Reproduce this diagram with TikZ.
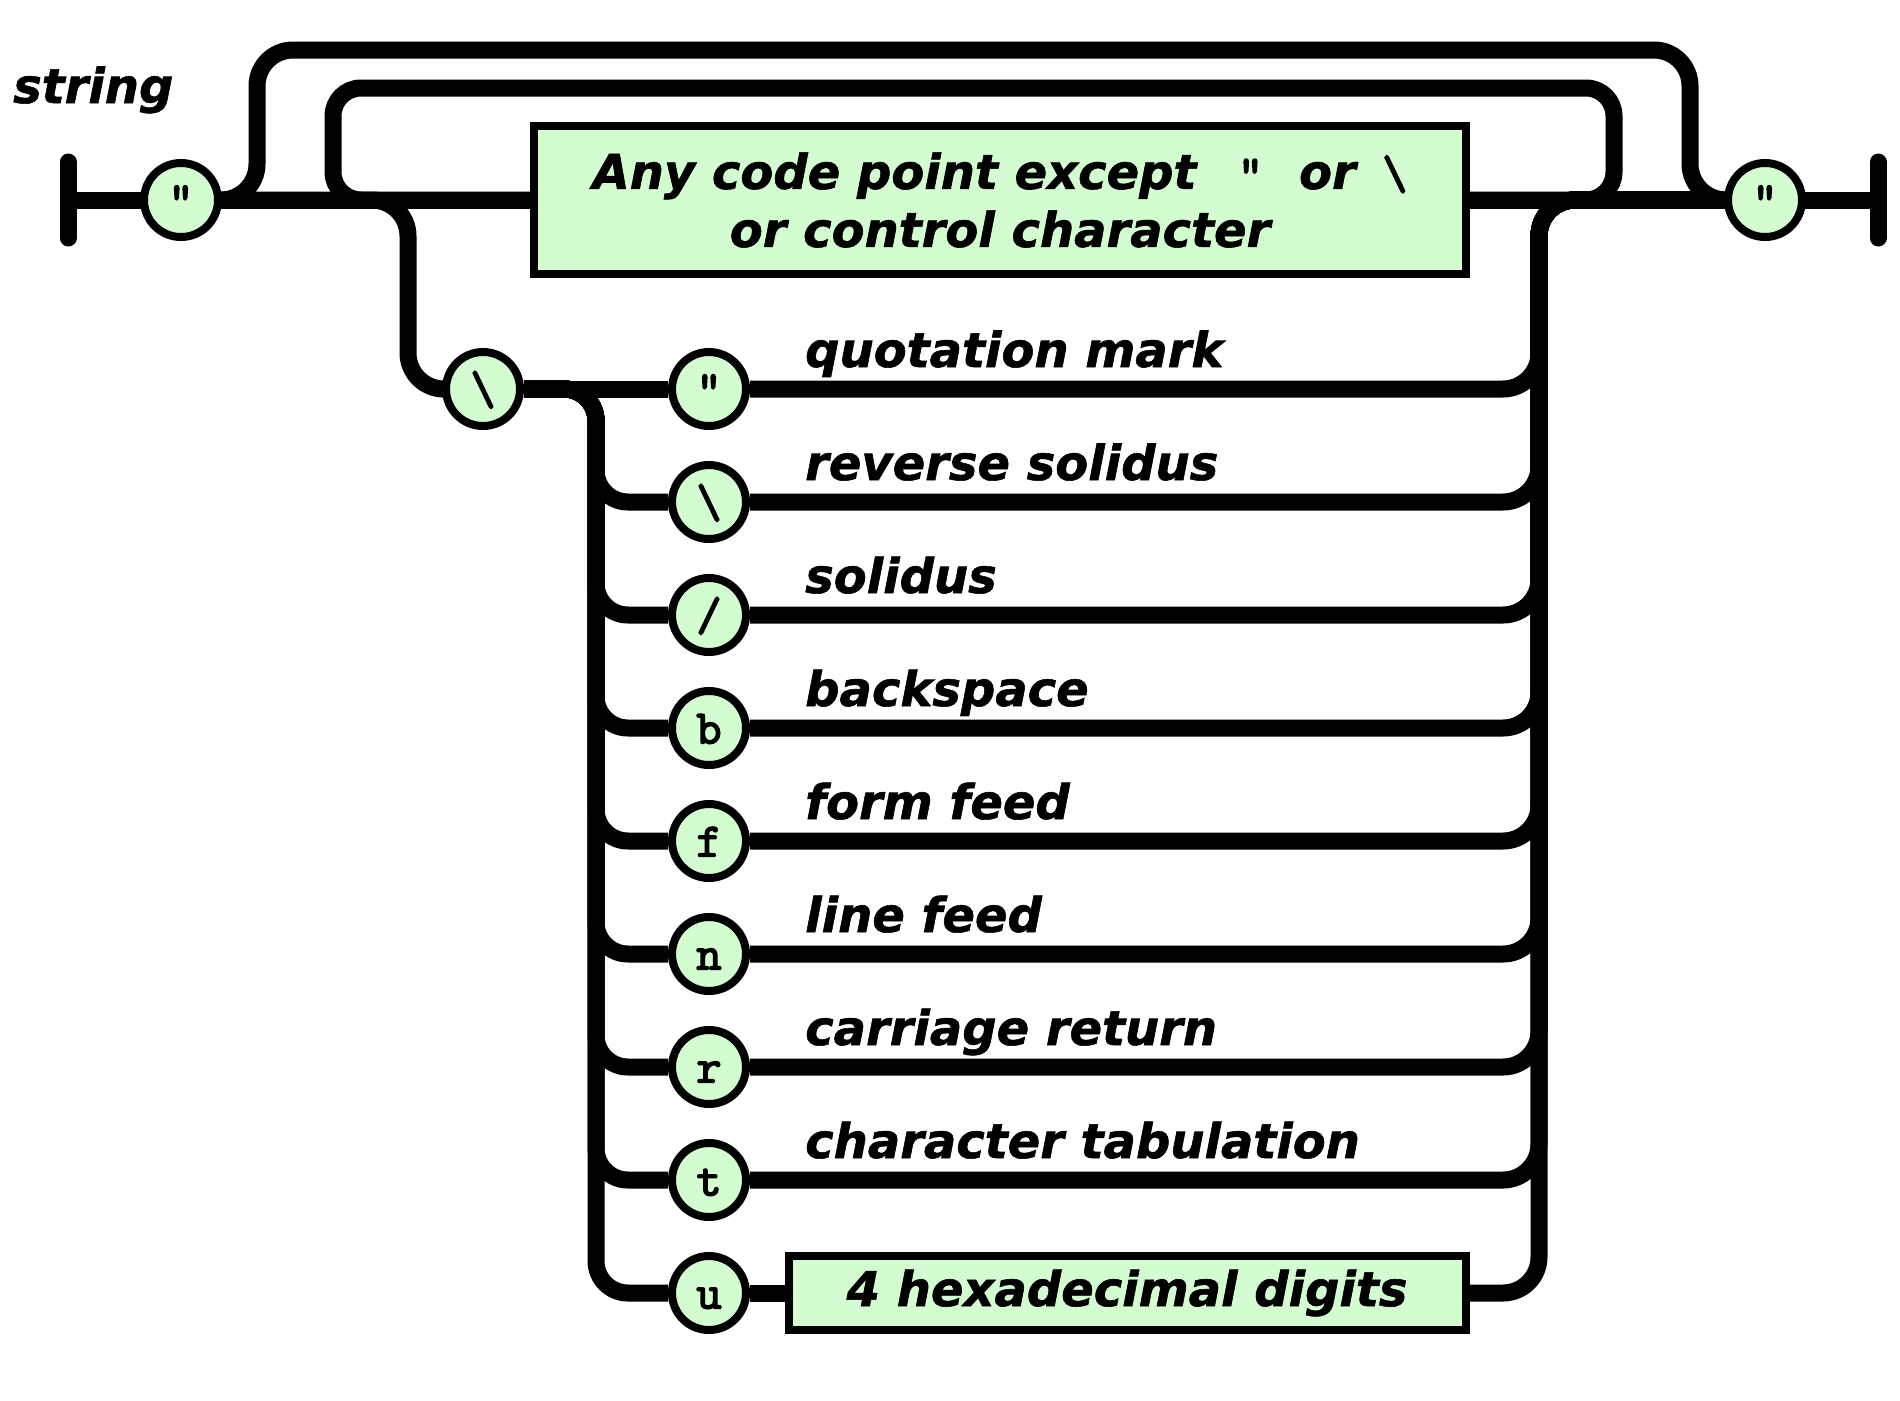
\documentclass[tikz,border=0pt]{standalone}
\usepackage{fontspec}
\setmainfont{DejaVu Sans}[BoldItalicFeatures={FakeBold=1.2}]
\setmonofont{lmmono10-regular.otf}[BoldFont={lmmono10-regular.otf}, BoldFeatures={FakeBold=3}]
\usetikzlibrary{backgrounds}
\definecolor{termfill}{HTML}{D3FCD0}

\begin{document}
\begin{tikzpicture}
  [x=1pt, y=-1pt,
   rail/.style={line width=17pt, rounded corners=36pt},
   term/.style={circle, draw, line width=8pt, fill=termfill, minimum size=74pt,
     inner sep=0pt, text height=31pt, text depth=0pt,
     font=\ttfamily\bfseries\fontsize{48}{48}\selectfont},
   seqbox/.style={draw, line width=8pt, fill=termfill, inner sep=0pt, align=center,
     font=\bfseries\itshape\fontsize{48}{58}\selectfont},
   desc/.style={anchor=base west, inner sep=0pt,
     font=\bfseries\itshape\fontsize{48}{58}\selectfont}]
  \useasboundingbox (0,0) rectangle (1900,1400);
  \node[desc] (title) at (13,103) {string};
  \coordinate (start) at (68,200);
  \coordinate (stop) at (1878,200);
  \node[term] (open) at (181,200) {"};
  \node[seqbox, minimum width=932pt, minimum height=148pt] (anychar) at (1000,200)
    {Any code point except\hspace{40pt}\texttt{\upshape "}\hspace{36pt}or\hspace{24pt}\texttt{\upshape\textbackslash}\\or control character};
  \node[term] (close) at (1765,200) {"};
  \node[term] (escape) at (483,389) {\textbackslash};
  \foreach \sym/\txt [count=\i from 0] in {{"}/quotation mark, {\textbackslash}/reverse solidus,
      {/}/solidus, b/backspace, f/form feed, n/line feed, r/carriage return, t/character tabulation}
  {
    \node[term] (esc\i) at (709,{389+113*\i}) {\sym};
    \node[desc] (txt\i) at (805,{367+113*\i}) {\txt};
  }
  \node[term] (esc8) at (709,1293) {u};
  \node[seqbox, minimum width=677pt, minimum height=74pt] (hex) at (1127,1293) {4 hexadecimal digits};

  \begin{scope}[on background layer]
    \draw[rail] (start) -- (stop);
    \draw[line width=17pt, line cap=round] ([yshift=38pt]start) -- ([yshift=-38pt]start);
    \draw[line width=17pt, line cap=round] ([yshift=38pt]stop) -- ([yshift=-38pt]stop);
    % loops over the string
    \draw[rail] (open) -| (257,50) -| (1690,200) -- (close);
    \draw[rail, rounded corners=28pt] (anychar) -| (1614,88) -| (333,200) -- (anychar);
    % escapes
    \draw[rail] (open) -| (408,389) -- (escape);
    \draw[rail] (escape) -- (esc0);
    \foreach \i in {1,...,8}
      \draw[rail, rounded corners=32pt] (escape) -| (596,{389+113*\i}) -- (esc\i);
    \foreach \i in {0,...,7}
      \draw[rail] (esc\i) -| (1539,200) -- (close);
    \draw[rail] (esc8) -- (hex);
    \draw[rail] (hex) -| (1539,200) -- (close);
  \end{scope}
\end{tikzpicture}
\end{document}
